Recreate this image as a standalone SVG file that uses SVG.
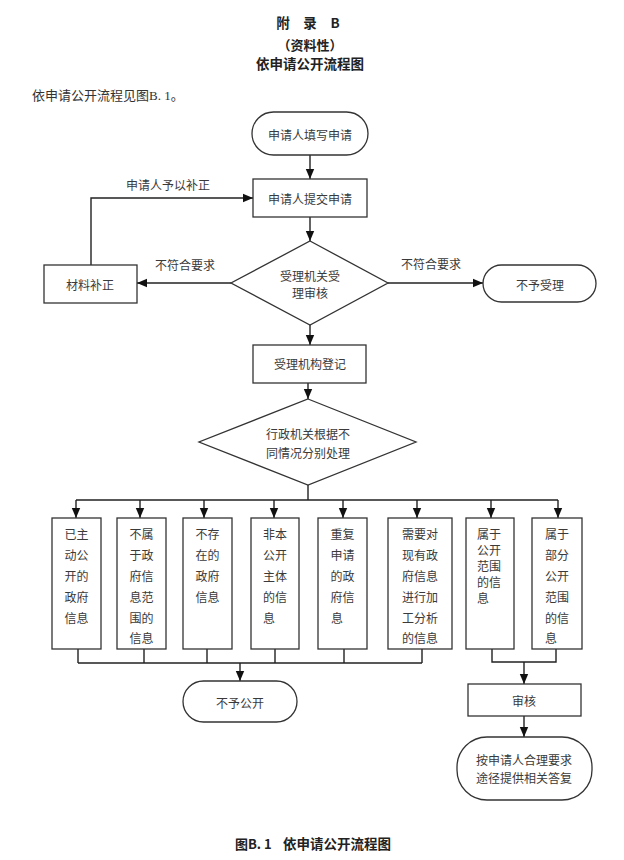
<svg xmlns="http://www.w3.org/2000/svg" width="624" height="860" viewBox="0 0 624 860">
<style>
text{font-family:"Noto Sans CJK SC","Liberation Sans",sans-serif;fill:#3a3a3a;font-size:12px;text-anchor:middle;dominant-baseline:central}
.title{font-weight:bold;fill:#222;font-size:13.5px}
.body{text-anchor:start;font-family:"Liberation Serif","Noto Sans CJK SC",serif;font-size:13px;fill:#333}
.shape{fill:#fff;stroke:#333;stroke-width:1.3}
.conn path{fill:none;stroke:#222;stroke-width:1.4}
.arr{marker-end:url(#ah)}
</style>
<defs>
<marker id="ah" markerUnits="userSpaceOnUse" markerWidth="10" markerHeight="10" viewBox="0 0 10 10" refX="10" refY="5" orient="auto">
<path d="M0,0.8 L10,5 L0,9.2 Z" fill="#111"/>
</marker>
</defs>
<rect width="624" height="860" fill="#fff"/>
<g id="header">
<text class="title" x="283" y="22">附</text>
<text class="title" x="310" y="22">录</text>
<text class="title" x="335" y="22">B</text>
<text class="title" x="310" y="44" style="font-size:13px">（资料性）</text>
<text class="title" x="310" y="63">依申请公开流程图</text>
<text class="body" x="32" y="95">依申请公开流程见图B. 1。</text>
</g>
<g class="conn" id="connectors">
<path class="arr" d="M310,155 V179"/>
<path class="arr" d="M310,217 V241"/>
<path class="arr" d="M231,283 H137"/>
<path class="arr" d="M91,265 V198 H253"/>
<path class="arr" d="M388,283 H483"/>
<path class="arr" d="M310,325 V345"/>
<path class="arr" d="M308,383 V399"/>
<path d="M308,485 V500 M76,500 H558"/>
<path class="arr" d="M76,500 V518"/>
<path class="arr" d="M140,500 V518"/>
<path class="arr" d="M204,500 V518"/>
<path class="arr" d="M274,500 V518"/>
<path class="arr" d="M343,500 V518"/>
<path class="arr" d="M417,500 V518"/>
<path class="arr" d="M491,500 V518"/>
<path class="arr" d="M558,500 V518"/>
<path d="M78,649 V663 M144,649 V663 M207,649 V663 M275,649 V663 M344,649 V663 M422,649 V663 M78,663 H422"/>
<path class="arr" d="M240,663 V681"/>
<path d="M492,649 V662 H556 V649"/>
<path class="arr" d="M524,662 V684"/>
<path class="arr" d="M524,716 V737"/>
<text x="168" y="184">申请人予以补正</text>
<text x="185" y="264">不符合要求</text>
<text x="431" y="263">不符合要求</text>
</g>
<g id="n-start"><rect class="shape" x="252" y="112" width="116" height="43" rx="21.5"/><text x="310" y="134">申请人填写申请</text></g>
<g id="n-submit"><rect class="shape" x="253" y="179" width="114" height="38"/><text x="310" y="198">申请人提交申请</text></g>
<g id="n-review"><path class="shape" d="M310,241 L388,283 L310,325 L231,283 Z"/><text x="310" y="275">受理机关受</text><text x="310" y="292">理审核</text></g>
<g id="n-supplement"><rect class="shape" x="44" y="265" width="93" height="38"/><text x="90" y="284">材料补正</text></g>
<g id="n-reject"><rect class="shape" x="483" y="265" width="113" height="37" rx="18.5"/><text x="540" y="284">不予受理</text></g>
<g id="n-register"><rect class="shape" x="253" y="345" width="113" height="38"/><text x="310" y="363">受理机构登记</text></g>
<g id="n-handle"><path class="shape" d="M308,399 L416,442 L308,485 L199,442 Z"/><text x="308" y="433">行政机关根据不</text><text x="308" y="452">同情况分别处理</text></g>
<g id="n-b1"><rect class="shape" x="52" y="518" width="49" height="131"/>
<text x="76.5" y="533">已主</text><text x="76.5" y="554">动公</text><text x="76.5" y="575">开的</text><text x="76.5" y="596">政府</text><text x="76.5" y="617">信息</text></g>
<g id="n-b2"><rect class="shape" x="117" y="518" width="49" height="131"/>
<text x="141.5" y="533">不属</text><text x="141.5" y="554">于政</text><text x="141.5" y="575">府信</text><text x="141.5" y="596">息范</text><text x="141.5" y="617">围的</text><text x="141.5" y="637">信息</text></g>
<g id="n-b3"><rect class="shape" x="183" y="518" width="49" height="131"/>
<text x="207.5" y="533">不存</text><text x="207.5" y="554">在的</text><text x="207.5" y="575">政府</text><text x="207.5" y="596">信息</text></g>
<g id="n-b4"><rect class="shape" x="251" y="518" width="48" height="131"/>
<text x="275" y="533">非本</text><text x="275" y="554">公开</text><text x="275" y="575">主体</text><text x="275" y="596">的信</text><text x="269" y="617">息</text></g>
<g id="n-b5"><rect class="shape" x="318" y="518" width="49" height="131"/>
<text x="342.5" y="533">重复</text><text x="342.5" y="554">申请</text><text x="342.5" y="575">的政</text><text x="342.5" y="596">府信</text><text x="337" y="617">息</text></g>
<g id="n-b6"><rect class="shape" x="388" y="518" width="64" height="131"/>
<text x="420" y="533">需要对</text><text x="420" y="554">现有政</text><text x="420" y="575">府信息</text><text x="420" y="596">进行加</text><text x="420" y="617">工分析</text><text x="420" y="637">的信息</text></g>
<g id="n-b7"><rect class="shape" x="466" y="518" width="48" height="131"/>
<text x="489" y="533">属于</text><text x="489" y="549">公开</text><text x="489" y="565">范围</text><text x="489" y="581">的信</text><text x="483" y="597">息</text></g>
<g id="n-b8"><rect class="shape" x="532" y="518" width="50" height="131"/>
<text x="557" y="533">属于</text><text x="557" y="554">部分</text><text x="557" y="575">公开</text><text x="557" y="596">范围</text><text x="557" y="617">的信</text><text x="551" y="637">息</text></g>
<g id="n-nodisclose"><rect class="shape" x="183" y="681" width="114" height="41" rx="20.5"/><text x="240" y="702">不予公开</text></g>
<g id="n-audit"><rect class="shape" x="468" y="684" width="113" height="32"/><text x="524" y="700">审核</text></g>
<g id="n-answer"><rect class="shape" x="457" y="737" width="135" height="63" rx="30"/><text x="524" y="759">按申请人合理要求</text><text x="524" y="777">途径提供相关答复</text></g>
<g id="caption">
<text class="title" x="235" y="843" style="text-anchor:start;font-size:13px">图B. 1</text>
<text class="title" x="283" y="843" style="text-anchor:start;font-size:13.5px">依申请公开流程图</text>
</g>
</svg>
